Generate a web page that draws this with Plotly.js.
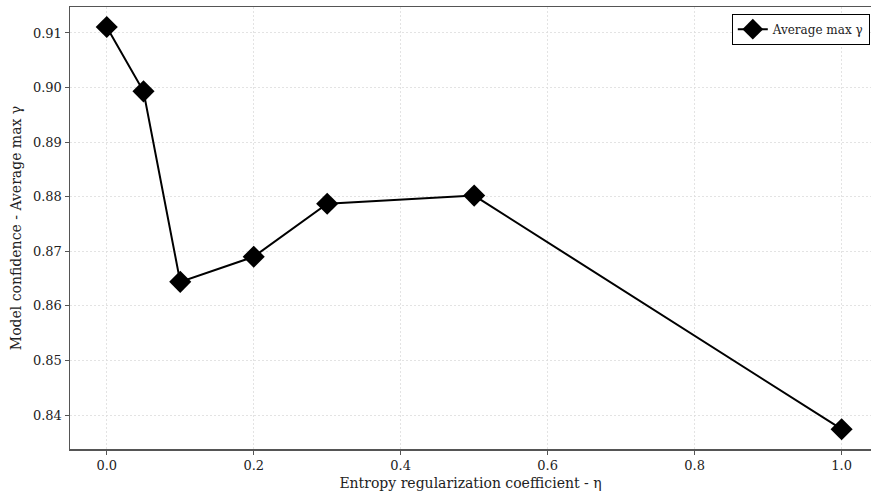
<!DOCTYPE html>
<html><head><meta charset="utf-8">
<script src="https://cdn.plot.ly/plotly-3.0.1.min.js"></script>
<style>html,body{margin:0;padding:0;background:#fff;overflow:hidden}</style>
</head><body><div id="chart" style="width:872px;height:498px"></div>
<script>
const eta = [0.0, 0.05, 0.1, 0.2, 0.3, 0.5, 1.0];
const avgMaxGamma = [0.9111, 0.8993, 0.8644, 0.8690, 0.8787, 0.8802, 0.8374];
const seriesName = 'Average max γ';
const xTicks = [0.0, 0.2, 0.4, 0.6, 0.8, 1.0];
const xTickLabels = ['0.0', '0.2', '0.4', '0.6', '0.8', '1.0'];
const yTicks = [0.84, 0.85, 0.86, 0.87, 0.88, 0.89, 0.90, 0.91];
const yTickLabels = ['0.84', '0.85', '0.86', '0.87', '0.88', '0.89', '0.90', '0.91'];

const font = 'DejaVu Serif, serif';
const trace = {
  x: eta, y: avgMaxGamma, name: seriesName, type: 'scatter', mode: 'lines+markers',
  line: {color: '#000', width: 2},
  marker: {symbol: 'diamond', size: 17, color: '#000'},
  showlegend: true
};
const axisCommon = {
  showline: true, linecolor: '#555', linewidth: 1.5,
  ticks: 'outside', ticklen: 4, tickcolor: '#555', tickwidth: 1,
  showgrid: true, gridcolor: '#dcdcdc', griddash: '2px,2px', gridwidth: 0.8,
  zeroline: false, tickfont: {family: font, size: 13, color: '#222'}
};
const layout = {
  width: 872, height: 498,
  margin: {l: 70, r: 1, t: 7, b: 49},
  paper_bgcolor: '#fff', plot_bgcolor: '#fff',
  font: {family: font, color: '#222'},
  xaxis: Object.assign({}, axisCommon, {
    mirror: true,
    range: [-0.05, 1.04], tickvals: xTicks, ticktext: xTickLabels,
    title: {text: 'Entropy regularization coefficient - η', font: {family: font, size: 14, color: '#222'}, standoff: 6}
  }),
  yaxis: Object.assign({}, axisCommon, {
    mirror: false,
    range: [0.83377, 0.91476], tickvals: yTicks, ticktext: yTickLabels,
    title: {text: 'Model confidence - Average max γ', font: {family: font, size: 14, color: '#222'}, standoff: 8}
  }),
  legend: {
    x: 0.9985, y: 0.985, xanchor: 'right', yanchor: 'top',
    bgcolor: '#fff', bordercolor: '#000', borderwidth: 1,
    font: {family: font, size: 12, color: '#222'},
    itemwidth: 30, tracegroupgap: 0
  },
  showlegend: true
};
Plotly.newPlot('chart', [trace], layout, {displayModeBar: false, staticPlot: true});
</script></body></html>
